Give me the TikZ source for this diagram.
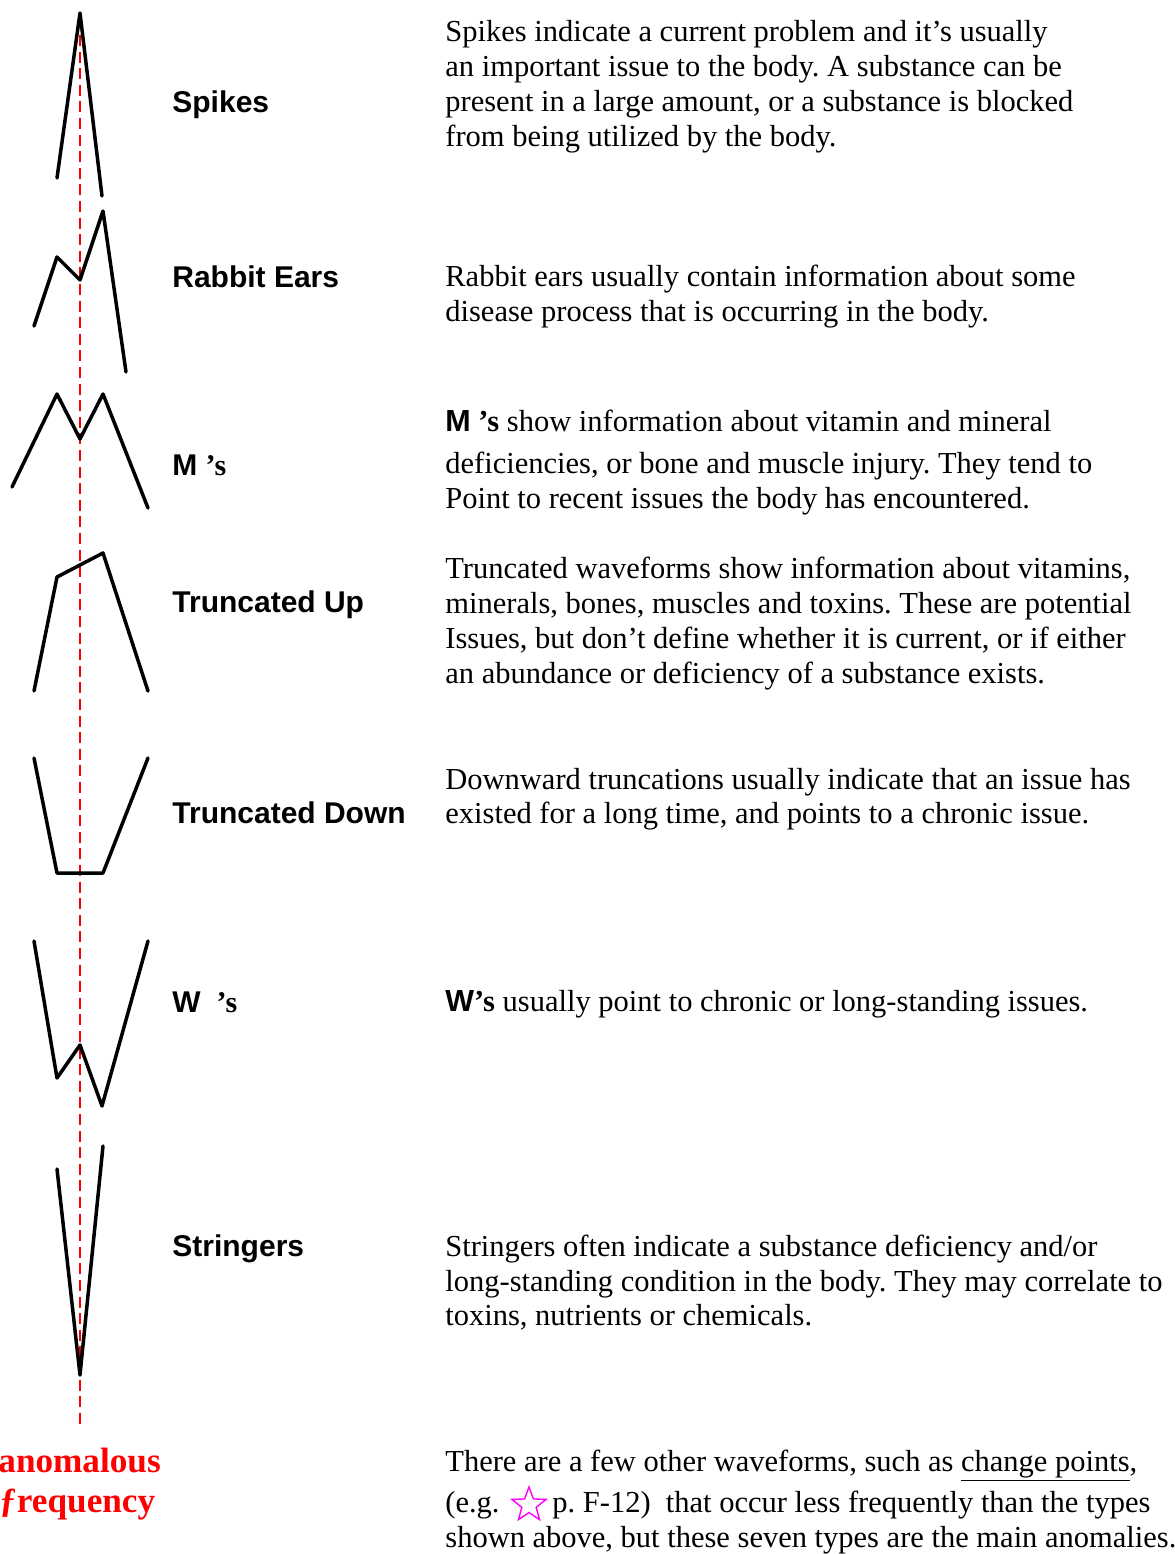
\documentclass[tikz,border=0pt]{standalone}
\usepackage{fontspec}
\setmainfont{Liberation Serif}
\newfontfamily\lsans{Liberation Sans}
\usetikzlibrary{shapes.geometric}
\definecolor{redline}{RGB}{255,0,0}
\definecolor{starmag}{RGB}{255,0,255}
\frenchspacing
\begin{document}
\begin{tikzpicture}[x=0.5pt,y=-0.5pt,
  wave/.style={line width=1.75pt,line cap=round,line join=round,black},
  axisline/.style={line width=1.35pt,redline,dash pattern=on 5.5pt off 2.8pt},
  label/.style={anchor=base west,inner sep=0pt,font=\lsans\bfseries\fontsize{15pt}{18pt}\selectfont},
  body/.style={anchor=base west,inner sep=0pt,font=\fontsize{15.25pt}{17.5pt}\selectfont},
  redtext/.style={anchor=base west,inner sep=0pt,text=redline,font=\bfseries\fontsize{17.6pt}{20pt}\selectfont}]
\useasboundingbox (0,0) rectangle (1174,1554);
% red axis
\coordinate (axtop) at (80,35);
\coordinate (axbot) at (80,1425);
\draw[axisline] (axtop) -- (axbot);
% waveforms
\draw[wave] (57,178) -- (80,13) -- (102,196);
\draw[wave] (34,326) -- (57,257) -- (80,280) -- (103,211) -- (126,372);
\draw[wave] (12,487) -- (57,394) -- (80,439) -- (103,394) -- (148,508);
\draw[wave] (34,691) -- (57,577) -- (103,553) -- (148,691);
\draw[wave] (34,758) -- (57,873) -- (103,873) -- (148,758);
\draw[wave] (34,941) -- (57,1078) -- (80,1045) -- (102,1106) -- (148,941);
\draw[wave] (57,1169) -- (80,1375) -- (103,1146);
% labels
\node[label] (lspikes) at (172,112) {Spikes};
\node[label] (lrabbit) at (172,287) {Rabbit Ears};
\node[label] (lm) at (172,475) {M \textrm{\bfseries ’s}};
\node[label] (ltu) at (172,612) {Truncated Up};
\node[label] (ltd) at (172,823) {Truncated Down};
\node[label] (lw) at (172,1012) {W\hspace{8pt}\textrm{\bfseries ’s}};
\node[label] (lstr) at (172,1256) {Stringers};
\node[redtext] (ra) at (-2,1472) {anomalous};
\node[redtext] (rf) at (-1,1512) {ƒrequency};
% descriptions
\node[body] (s1) at (445,41) {Spikes indicate a current problem and it’s usually};
\node[body] (s2) at (445,76) {an important issue to the body. A substance can be};
\node[body] (s3) at (445,111) {present in a large amount, or a substance is blocked};
\node[body] (s4) at (445,146) {from being utilized by the body.};
\node[body] (r1) at (445,286) {Rabbit ears usually contain information about some};
\node[body] (r2) at (445,321) {disease process that is occurring in the body.};
\node[body] (m1) at (445,431) {{\lsans\bfseries M} \textbf{’s} show information about vitamin and mineral};
\node[body] (m2) at (445,473) {deficiencies, or bone and muscle injury. They tend to};
\node[body] (m3) at (445,508) {Point to recent issues the body has encountered.};
\node[body] (t1) at (445,578) {Truncated waveforms show information about vitamins,};
\node[body] (t2) at (445,613) {minerals, bones, muscles and toxins. These are potential};
\node[body] (t3) at (445,648) {Issues, but don’t define whether it is current, or if either};
\node[body] (t4) at (445,683) {an abundance or deficiency of a substance exists.};
\node[body] (d1) at (445,789) {Downward truncations usually indicate that an issue has};
\node[body] (d2) at (445,823) {existed for a long time, and points to a chronic issue.};
\node[body] (w1) at (445,1011) {{\lsans\bfseries W}\textbf{’s} usually point to chronic or long-standing issues.};
\node[body] (g1) at (445,1256) {Stringers often indicate a substance deficiency and/or};
\node[body] (g2) at (445,1291) {long-standing condition in the body. They may correlate to};
\node[body] (g3) at (445,1325) {toxins, nutrients or chemicals.};
\node[body] (o1) at (445,1471) {There are a few other waveforms, such as \underline{change points},};
\node[body] (o2) at (445,1512) {(e.g.};
\node[star,star points=5,star point ratio=2.4,draw=starmag,line width=0.7pt,minimum size=18pt,inner sep=0pt] (st) at (529,1505) {};
\node[body] (o3) at (552,1512) {p. F-12)\ \ that occur less frequently than the types};
\node[body] (o4) at (445,1547) {shown above, but these seven types are the main anomalies.};
\end{tikzpicture}
\end{document}
